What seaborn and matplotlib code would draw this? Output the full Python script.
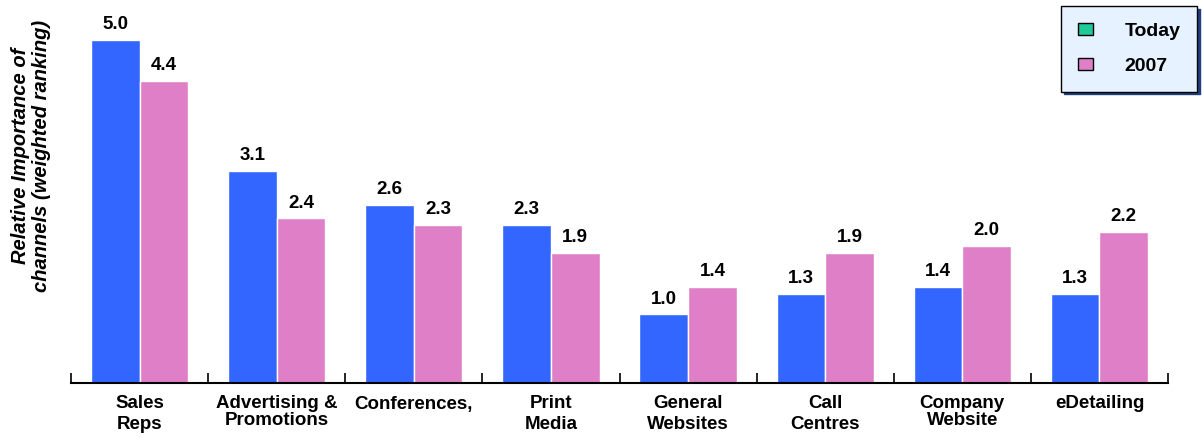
import matplotlib
matplotlib.use("Agg")
import matplotlib.pyplot as plt
from matplotlib.patches import Patch
from matplotlib.ticker import FixedLocator
import numpy as np
import pandas as pd
import seaborn as sns

### Data ###

channels = ["Sales\nReps", "Advertising &\nPromotions", "Conferences,", "Print\nMedia",
            "General\nWebsites", "Call\nCentres", "Company\nWebsite", "eDetailing"]
today = [5.0, 3.1, 2.6, 2.3, 1.0, 1.3, 1.4, 1.3]
future = [4.4, 2.4, 2.3, 1.9, 1.4, 1.9, 2.0, 2.2]
periods = ["Today", "2007"]

df = pd.DataFrame({
    "channel": channels * 2,
    "value": today + future,
    "period": [periods[0]] * len(channels) + [periods[1]] * len(channels),
})

### Style ###

sns.set_style("white")
plt.rcParams["font.family"] = ["Liberation Sans", "DejaVu Sans"]
plt.rcParams["text.color"] = "black"
plt.rcParams["xtick.color"] = "black"
plt.rcParams["xtick.labelcolor"] = "black"

W, H = 1202, 438
fig = plt.figure(figsize=(W / 100, H / 100), dpi=100)
ax = fig.add_axes([71 / W, (H - 383) / H, (1168 - 71) / W, (383 - 6) / H])

sns.barplot(
    data=df, x="channel", y="value", hue="period",
    palette={"Today": "#3366FF", "2007": "#DF7FC8"},
    width=0.71, edgecolor="white", linewidth=1,
    saturation=1, legend=False, ax=ax,
)

# value labels on top of bars
for cont in ax.containers:
    ax.bar_label(cont, fmt="%.1f", padding=5, fontsize=13.5, fontweight="bold", color="black")

ax.set_xlim(-0.5, len(channels) - 0.5)
ax.set_ylim(0, 5.5)
ax.set_xlabel("")
ax.set_ylabel("")
ax.set_yticks([])

for s in ["top", "right", "left"]:
    ax.spines[s].set_visible(False)
ax.spines["bottom"].set_linewidth(1.5)
ax.spines["bottom"].set_color("black")

ax.tick_params(axis="x", which="major", length=0, pad=9, labelsize=13.5)
tight = {"Advertising &\nPromotions", "Company\nWebsite"}
for lab in ax.get_xticklabels():
    lab.set_fontweight("bold")
    lab.set_color("black")
    lab.set_linespacing(0.95 if lab.get_text() in tight else 1.3)
    lab.set_va("top")

# small separator ticks between the groups
ax.xaxis.set_minor_locator(FixedLocator(np.arange(-0.5, len(channels), 1.0)))
ax.tick_params(axis="x", which="minor", bottom=True, direction="in",
               length=7, width=1.2, color="black")

fig.text(31 / W, 1 - 156 / H, "Relative Importance of\nchannels (weighted ranking)",
         rotation=90, ha="center", va="center", fontsize=14.5,
         fontweight="bold", fontstyle="italic", linespacing=1.1)

### Legend (swatch colours as in the original) ###

handles = [Patch(facecolor="#1FC99A", edgecolor="black"),
           Patch(facecolor="#DF7FC8", edgecolor="black")]
leg = fig.legend(
    handles, periods, loc="upper right", bbox_to_anchor=(1197 / W, 1 - 6 / H),
    frameon=True, fancybox=False, shadow={"color": "#1F3F7F", "alpha": 1},
    prop={"weight": "bold", "size": 14}, handlelength=0.8, handleheight=0.55,
    labelspacing=0.95, borderpad=0.85, handletextpad=1.6, borderaxespad=0,
)
leg.get_frame().set_facecolor("#E6F2FF")
leg.get_frame().set_edgecolor("black")
leg.get_frame().set_linewidth(1)
for t in leg.get_texts():
    t.set_color("black")

fig.savefig("out.png", dpi=100)
